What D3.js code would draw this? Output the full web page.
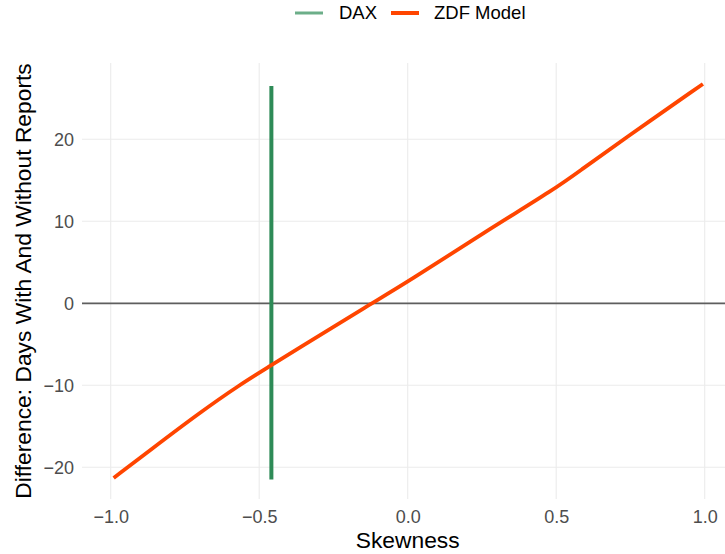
<!DOCTYPE html>
<html>
<head>
<meta charset="utf-8">
<script src="https://cdn.jsdelivr.net/npm/d3@7"></script>
<style>
  html, body { margin: 0; padding: 0; background: #fff; }
  svg { display: block; font-family: "Liberation Sans", Arial, sans-serif; }
</style>
</head>
<body>
<svg id="chart" width="725" height="554"></svg>
<script>
// ---- data ----
const zdfX = [-0.99, -0.867, -0.699, -0.564, -0.461, -0.396, -0.121, 0, 0.26, 0.502, 0.581, 0.727, 0.994];
const zdfY = [-21.3, -17.9, -13.3, -9.9, -7.6, -6.1, 0, 2.6, 8.7, 14.1, 16.2, 20.0, 26.75];
const daxX = -0.459;
const daxYRange = [-21.5, 26.5];
const xTicks = [-1.0, -0.5, 0.0, 0.5, 1.0];
const yTicks = [-20, -10, 0, 10, 20];
const seriesNames = ["DAX", "ZDF Model"];
const seriesColors = ["#2E8B57", "#FF4500"];

// ---- layout ----
const svg = d3.select("#chart");
const panel = { left: 82, right: 725, top: 63, bottom: 499 };

const x = d3.scaleLinear().domain([-1, 1]).range([110.7, 704.7]);
const y = d3.scaleLinear().domain([0, 20]).range([303.3, 139.3]);

const minus = s => s.replace("-", "\u2212");

// gridlines
const grid = svg.append("g");
grid.selectAll("line.vx").data(xTicks).enter().append("line")
  .attr("x1", d => x(d)).attr("x2", d => x(d))
  .attr("y1", panel.top).attr("y2", panel.bottom)
  .attr("stroke", "#ebebeb").attr("stroke-width", 1.1);
grid.selectAll("line.hy").data(yTicks).enter().append("line")
  .attr("x1", panel.left).attr("x2", panel.right)
  .attr("y1", d => y(d)).attr("y2", d => y(d))
  .attr("stroke", "#ebebeb").attr("stroke-width", 1.1);

// zero line
svg.append("line")
  .attr("x1", panel.left).attr("x2", panel.right)
  .attr("y1", y(0)).attr("y2", y(0))
  .attr("stroke", "#5e5e5e").attr("stroke-width", 1.7);

// DAX vertical line
svg.append("line")
  .attr("x1", x(daxX)).attr("x2", x(daxX))
  .attr("y1", y(daxYRange[0])).attr("y2", y(daxYRange[1]))
  .attr("stroke", seriesColors[0]).attr("stroke-width", 4);

// ZDF model curve
const pts = zdfX.map((d, i) => [d, zdfY[i]]);
svg.append("path")
  .datum(pts)
  .attr("fill", "none")
  .attr("stroke", seriesColors[1])
  .attr("stroke-width", 3.8)
  .attr("stroke-linecap", "butt")
  .attr("d", d3.line().x(d => x(d[0])).y(d => y(d[1])).curve(d3.curveBasis));

// axes (tick labels only)
const xAxis = d3.axisBottom(x).tickValues(xTicks).tickSize(0).tickPadding(0)
  .tickFormat(d => minus(d3.format(".1f")(d)));
const gx = svg.append("g").attr("transform", `translate(0, 510)`).call(xAxis);
gx.select(".domain").remove();
gx.selectAll("text").attr("font-size", 18).attr("fill", "#4d4d4d")
  .attr("dy", "0.71em").attr("font-family", "Liberation Sans, Arial, sans-serif");

const yAxis = d3.axisLeft(y).tickValues(yTicks).tickSize(0).tickPadding(0)
  .tickFormat(d => minus(String(d)));
const gy = svg.append("g").attr("transform", `translate(74, 0)`).call(yAxis);
gy.select(".domain").remove();
gy.selectAll("text").attr("font-size", 18).attr("fill", "#4d4d4d")
  .attr("dy", "0.35em").attr("font-family", "Liberation Sans, Arial, sans-serif");

// axis titles
svg.append("text")
  .attr("x", (x(-1) + x(1)) / 2).attr("y", 548)
  .attr("text-anchor", "middle").attr("font-size", 22.8).attr("fill", "#000")
  .text("Skewness");
svg.append("text")
  .attr("transform", `translate(31, ${(panel.top + panel.bottom) / 2}) rotate(-90)`)
  .attr("text-anchor", "middle").attr("font-size", 22.8).attr("fill", "#000")
  .text("Difference: Days With And Without Reports");

// legend
const legend = svg.append("g");
const keyX = [295, 391];
const textX = [339, 434];
seriesNames.forEach((name, i) => {
  legend.append("line")
    .attr("x1", keyX[i]).attr("x2", keyX[i] + 28)
    .attr("y1", 13).attr("y2", 13)
    .attr("stroke", seriesColors[i])
    .attr("stroke-opacity", i === 0 ? 0.7 : 1)
    .attr("stroke-width", i === 0 ? 3 : 4);
  legend.append("text")
    .attr("x", textX[i]).attr("y", 13).attr("dy", "0.35em")
    .attr("font-size", 18.5).attr("fill", "#000")
    .text(name);
});
</script>
</body>
</html>
